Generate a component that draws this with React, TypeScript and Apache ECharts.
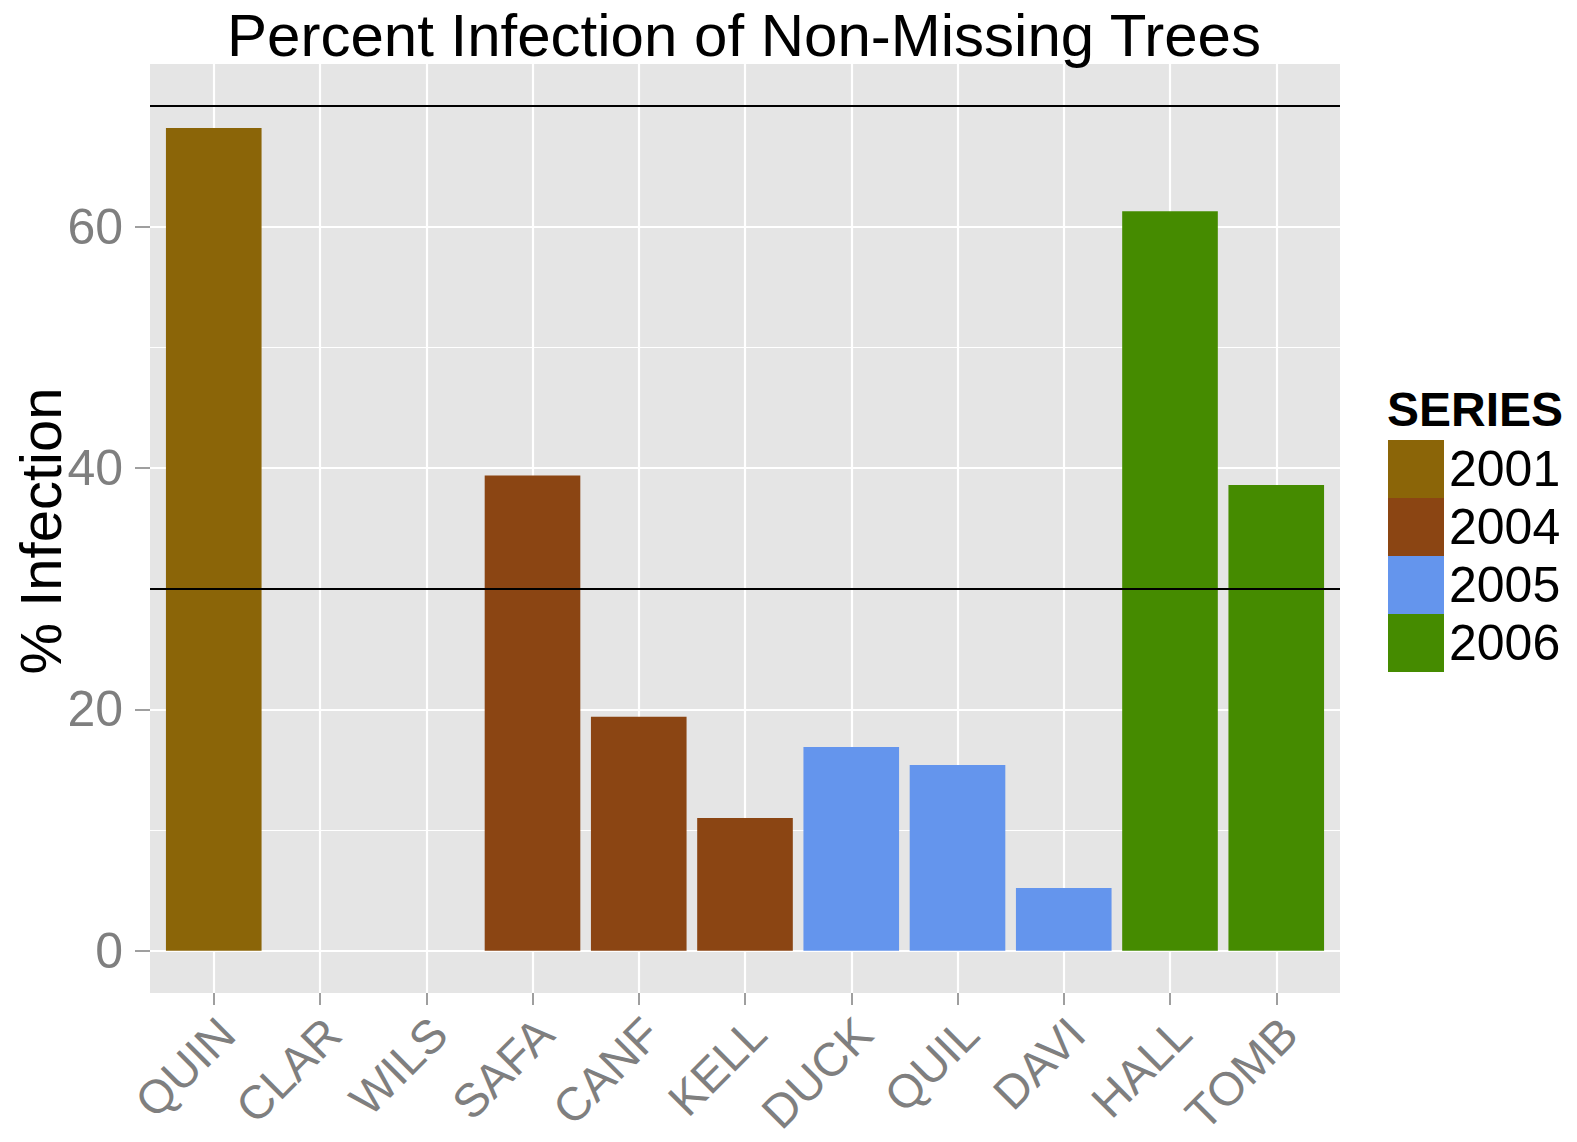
import React, { useEffect, useRef } from "react";
import * as echarts from "echarts";

const categories = ["QUIN", "CLAR", "WILS", "SAFA", "CANF", "KELL", "DUCK", "QUIL", "DAVI", "HALL", "TOMB"];
const infection = [68.2, 0, 0, 39.4, 19.4, 11.0, 16.9, 15.4, 5.2, 61.3, 38.6];
const seriesOf = ["2001", "2001", "2001", "2004", "2004", "2004", "2005", "2005", "2005", "2006", "2006"];
const years = ["2001", "2004", "2005", "2006"];
const yearColors = ["#8B6508", "#8B4513", "#6495ED", "#458B00"];
const yMajorTicks = [0, 20, 40, 60];
const yMinorTicks = [10, 30, 50, 70];
const referenceLines = [30, 70];
const xTickIndices = categories.map((_, i) => i);

const FONT = "'Liberation Sans', Arial, sans-serif";
const GRAY = "#7F7F7F";

export default function App() {
  const ref = useRef<HTMLDivElement>(null);
  useEffect(() => {
    if (!ref.current) return;
    const chart = echarts.init(ref.current, undefined, { renderer: "svg" });
    const barSeries = years.map((yr, k) => ({
      name: yr,
      type: "bar",
      xAxisIndex: 0,
      yAxisIndex: 0,
      barWidth: "90%",
      barGap: "-100%",
      z: 3,
      itemStyle: { color: yearColors[k] },
      data: categories
        .map((_, i) => (seriesOf[i] === yr ? [i, infection[i]] : null))
        .filter((d) => d !== null),
    }));
    const option: any = {
      animation: false,
      backgroundColor: "#FFFFFF",
      textStyle: { fontFamily: FONT },
      grid: {
        left: 150,
        top: 64,
        width: 1190,
        height: 929,
        containLabel: false,
        outerBoundsMode: "none",
        show: true,
        backgroundColor: "#E5E5E5",
        borderWidth: 0,
      },
      xAxis: {
        type: "value",
        min: -0.6,
        max: 10.6,
        position: "bottom",
        axisLine: { show: false, onZero: false },
        axisTick: {
          show: true,
          customValues: xTickIndices,
          length: 12,
          lineStyle: { color: GRAY, width: 1.5 },
        },
        axisLabel: {
          customValues: xTickIndices,
          formatter: (v: number) => categories[Math.round(v)] ?? "",
          rotate: 45,
          align: "right",
          verticalAlign: "top",
          margin: 20,
          fontSize: 47,
          lineHeight: 36,
          color: GRAY,
          fontFamily: FONT,
        },
        splitLine: { show: true, lineStyle: { color: "#FFFFFF", width: 2.2 } },
      },
      yAxis: [
        {
          type: "value",
          min: -3.5,
          max: 73.5,
          position: "left",
          axisLine: { show: false, onZero: false },
          axisTick: {
            show: true,
            customValues: yMajorTicks,
            length: 15,
            lineStyle: { color: GRAY, width: 1.5 },
          },
          axisLabel: {
            customValues: yMajorTicks,
            margin: 27,
            fontSize: 50,
            color: GRAY,
            fontFamily: FONT,
          },
          splitLine: { show: true, lineStyle: { color: "#FFFFFF", width: 2.2 } },
        },
        {
          type: "value",
          min: -3.5,
          max: 73.5,
          position: "left",
          axisLine: { show: false, onZero: false },
          axisTick: { show: false, customValues: yMinorTicks },
          axisLabel: { show: false, customValues: yMinorTicks },
          splitLine: { show: true, lineStyle: { color: "#FFFFFF", width: 1.1 } },
        },
      ],
      legend: {
        data: years,
        orient: "vertical",
        left: 1388,
        top: 440,
        itemWidth: 56,
        itemHeight: 58,
        itemGap: 0,
        icon: "rect",
        selectedMode: false,
        padding: 0,
        textStyle: { fontSize: 50, color: "#000", fontFamily: FONT },
      },
      graphic: [
        {
          type: "text",
          x: 744,
          y: 35,
          style: {
            text: "Percent Infection of Non-Missing Trees",
            fontSize: 60,
            fontFamily: FONT,
            fill: "#000",
            align: "center",
            verticalAlign: "middle",
          },
        },
        {
          type: "text",
          x: 40,
          y: 531,
          rotation: Math.PI / 2,
          style: {
            text: "% Infection",
            fontSize: 58,
            fontFamily: FONT,
            fill: "#000",
            align: "center",
            verticalAlign: "middle",
          },
        },
        {
          type: "text",
          x: 1387,
          y: 409,
          style: {
            text: "SERIES",
            fontSize: 48,
            fontWeight: "bold",
            fontFamily: FONT,
            fill: "#000",
            align: "left",
            verticalAlign: "middle",
          },
        },
      ],
      series: [
        ...barSeries,
        {
          name: "refLines",
          type: "line",
          data: [],
          z: 5,
          markLine: {
            silent: true,
            symbol: "none",
            label: { show: false },
            lineStyle: { color: "#000000", width: 2, type: "solid" },
            data: referenceLines.map((v) => ({ yAxis: v })),
          },
        },
      ],
    };
    chart.setOption(option);
    return () => chart.dispose();
  }, []);
  return (
    <div
      ref={ref}
      style={{ position: "absolute", left: 0, top: 0, width: 1577, height: 1142, background: "#fff" }}
    />
  );
}
